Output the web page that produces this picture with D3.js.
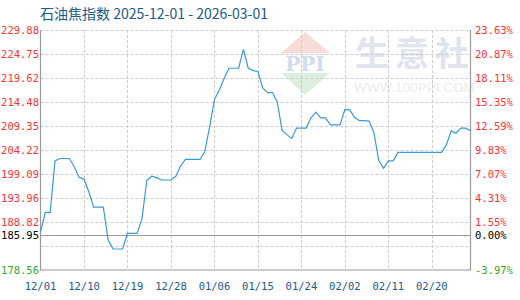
<!DOCTYPE html>
<html><head><meta charset="utf-8">
<script src="https://cdn.jsdelivr.net/npm/d3@7"></script>
<style>body{margin:0;background:#fff}svg{display:block}</style>
</head><body>
<svg id="c" width="520" height="300"></svg>
<script>
const titleText = "石油焦指数 2025-12-01 - 2026-03-01";
const dates = ["2025-12-01","2025-12-02","2025-12-03","2025-12-04","2025-12-05","2025-12-06","2025-12-07","2025-12-08","2025-12-09","2025-12-10",
"2025-12-11","2025-12-12","2025-12-13","2025-12-14","2025-12-15","2025-12-16","2025-12-17","2025-12-18","2025-12-19","2025-12-20",
"2025-12-21","2025-12-22","2025-12-23","2025-12-24","2025-12-25","2025-12-26","2025-12-27","2025-12-28","2025-12-29","2025-12-30",
"2025-12-31","2026-01-01","2026-01-02","2026-01-03","2026-01-04","2026-01-05","2026-01-06","2026-01-07","2026-01-08","2026-01-09",
"2026-01-10","2026-01-11","2026-01-12","2026-01-13","2026-01-14","2026-01-15","2026-01-16","2026-01-17","2026-01-18","2026-01-19",
"2026-01-20","2026-01-21","2026-01-22","2026-01-23","2026-01-24","2026-01-25","2026-01-26","2026-01-27","2026-01-28","2026-01-29",
"2026-01-30","2026-01-31","2026-02-01","2026-02-02","2026-02-03","2026-02-04","2026-02-05","2026-02-06","2026-02-07","2026-02-08",
"2026-02-09","2026-02-10","2026-02-11","2026-02-12","2026-02-13","2026-02-14","2026-02-15","2026-02-16","2026-02-17","2026-02-18",
"2026-02-19","2026-02-20","2026-02-21","2026-02-22","2026-02-23","2026-02-24","2026-02-25","2026-02-26","2026-02-27","2026-02-28"];
const values = [186.7,190.9,190.9,201.9,202.4,202.4,202.4,200.6,198.4,198.0,
195.3,192.0,192.0,192.0,185.0,183.05,183.05,183.05,186.4,186.4,
186.4,189.5,197.7,198.6,198.3,197.8,197.8,197.8,198.6,200.8,
202.2,202.2,202.2,202.2,203.9,209.1,215.0,217.05,219.5,221.7,
221.7,221.7,225.75,221.7,221.2,221.0,217.5,216.5,216.5,214.5,
208.4,207.5,206.7,208.9,208.9,208.9,211.1,212.3,211.1,211.1,
209.6,209.6,209.6,212.9,212.8,211.2,210.5,210.5,210.4,208.0,
202.0,200.3,201.9,201.9,203.7,203.7,203.7,203.7,203.7,203.7,
203.7,203.7,203.7,203.7,205.3,208.3,207.8,208.9,208.9,208.35];
const yTicks = [229.88,224.75,219.62,214.48,209.35,204.22,199.09,193.96,188.82,183.69,178.56];
const yLabels = ["229.88","224.75","219.62","214.48","209.35","204.22","199.09","193.96","188.82","","178.56"];
const pctLabels = ["23.63%","20.87%","18.11%","15.35%","12.59%","9.83%","7.07%","4.31%","1.55%","","-3.97%"];
const baseValue = 185.95;
const baseLabel = "185.95";
const basePct = "0.00%";
const xTickDates = ["2025-12-01","2025-12-10","2025-12-19","2025-12-28","2026-01-06","2026-01-15","2026-01-24","2026-02-02","2026-02-11","2026-02-20"];
const xTickLabels = ["12/01","12/10","12/19","12/28","01/06","01/15","01/24","02/02","02/11","02/20"];

const parse = d3.utcParse("%Y-%m-%d");
const L = 40.5, R = 470.5, T = 30, B = 270;
const x = d3.scaleUtc().domain([parse(dates[0]), parse(dates[dates.length-1])]).range([L, R]);
const y = d3.scaleLinear().domain([178.56, 229.88]).range([B, T]);
const svg = d3.select("#c");
const font = "'DejaVu Sans Mono', monospace";

// watermark
const wm = svg.append("g");
wm.append("path").attr("d", "M305,32 L330,53 L281,53 Z").attr("fill", "#f8dcd8");
wm.append("path").attr("d", "M281,73 L330,73 L305,95 Z").attr("fill", "#dcefdc");
wm.append("text").attr("x", 305).attr("y", 71).attr("text-anchor", "middle")
  .attr("font-family", "'DejaVu Serif', serif").attr("font-weight", "bold").attr("font-size", 20)
  .attr("fill", "#d3dced").text("PPI");
wm.append("text").attr("x", 355).attr("y", 66).attr("text-anchor", "start")
  .attr("font-family", "'Noto Sans CJK SC'").attr("font-weight", "bold").attr("font-size", 34)
  .attr("letter-spacing", 6).attr("fill", "#dfe4ee").text("生意社");
wm.append("text").attr("x", 354).attr("y", 92).attr("text-anchor", "start")
  .attr("font-family", "'Liberation Sans', sans-serif").attr("font-size", 13.5)
  .attr("fill", "#ececec").text("WWW.100PPI.COM");

// grid
const grid = svg.append("g").attr("stroke", "#cccccc").attr("stroke-dasharray", "3,2").attr("stroke-width", 1);
yTicks.slice(0, yTicks.length-1).forEach(v => {
  grid.append("line").attr("x1", L).attr("x2", R).attr("y1", Math.round(y(v))+0.5).attr("y2", Math.round(y(v))+0.5);
});
xTickDates.slice(1).forEach(d => {
  const xx = Math.round(x(parse(d)))+0.5;
  grid.append("line").attr("x1", xx).attr("x2", xx).attr("y1", T).attr("y2", B);
});

// baseline
svg.append("line").attr("x1", L).attr("x2", R).attr("y1", Math.round(y(baseValue))+0.5).attr("y2", Math.round(y(baseValue))+0.5)
  .attr("stroke", "#999").attr("stroke-width", 1);

// border (left, bottom, right)
svg.append("path").attr("d", `M${L},${T}V${B}H${R}V${T}`).attr("fill", "none").attr("stroke", "#999").attr("stroke-width", 1.2);

// line
const line = d3.line().x((d, i) => x(parse(dates[i]))).y(d => y(d));
svg.append("path").datum(values).attr("d", line).attr("fill", "none").attr("stroke", "#3a9ad9").attr("stroke-width", 1.2);

// labels
const lab = svg.append("g").attr("font-family", font).attr("font-size", 10.5);
yTicks.forEach((v, i) => {
  if (!yLabels[i]) return;
  const col = i === yTicks.length-1 ? "#33aa33" : "#ff3333";
  lab.append("text").attr("x", 39).attr("y", y(v)+4).attr("text-anchor", "end").attr("fill", col).text(yLabels[i]);
  lab.append("text").attr("x", 475).attr("y", y(v)+4).attr("text-anchor", "start").attr("fill", col).text(pctLabels[i]);
});
lab.append("text").attr("x", 39).attr("y", y(baseValue)+4).attr("text-anchor", "end").attr("fill", "#000").text(baseLabel);
lab.append("text").attr("x", 475).attr("y", y(baseValue)+4).attr("text-anchor", "start").attr("fill", "#000").text(basePct);

xTickDates.forEach((d, i) => {
  lab.append("text").attr("x", x(parse(d))).attr("y", 290).attr("text-anchor", "middle").attr("fill", "#1a5a8a").text(xTickLabels[i]);
});

// title
svg.append("text").attr("x", 40).attr("y", 19).attr("font-family", "'Noto Sans CJK SC', sans-serif").attr("font-size", 14)
  .attr("fill", "#1a5a8a").text(titleText);
</script>
</body></html>
